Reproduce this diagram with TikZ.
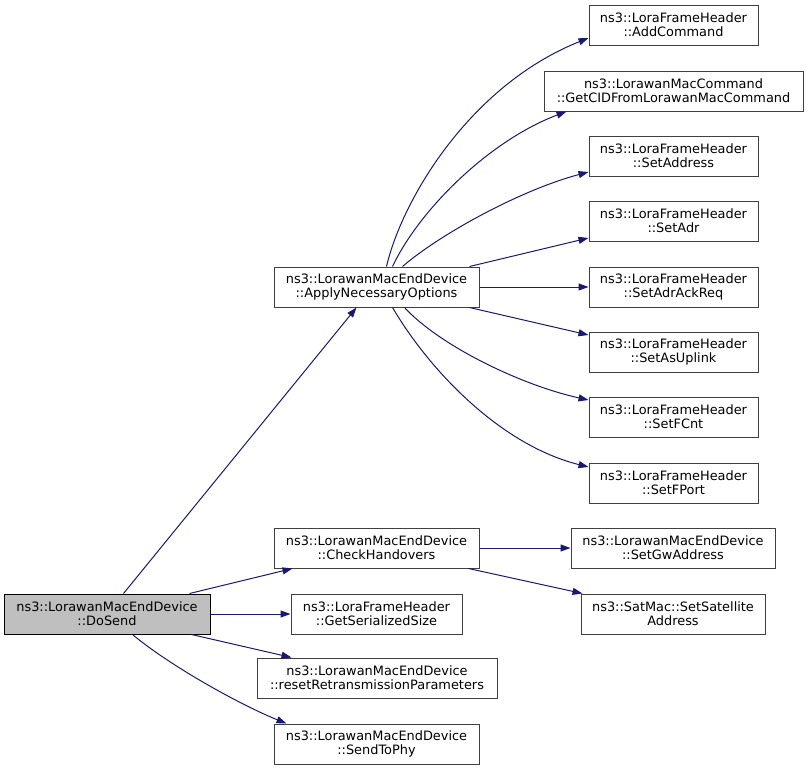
\documentclass[tikz,border=0pt]{standalone}
\usepackage{fontspec}
\setmainfont{DejaVu Sans}
\usetikzlibrary{arrows.meta}
\definecolor{edgeblue}{HTML}{191970}
\definecolor{boxgray}{HTML}{BFBFBF}
\definecolor{boxline}{HTML}{404040}
\begin{document}
\begin{tikzpicture}[x=1pt,y=-1pt,
  fn/.style={draw=boxline,line width=1pt,fill=white,rectangle,inner sep=0pt,
    minimum height=40pt,align=center,font=\fontsize{12.9}{14}\selectfont},
  cur/.style={fn,fill=boxgray,draw=black},
  call/.style={draw=edgeblue,line width=1pt,
    arrows={-{Triangle[length=10pt,width=7pt,fill=edgeblue]}}}]
\useasboundingbox (0,0) rectangle (808,771);
\fill[white] (0,0) rectangle (808,771);

\node[cur,minimum width=206pt] (dosend) at (107,614) {ns3::LorawanMacEndDevice\\::DoSend};
\node[fn,minimum width=205pt] (apply) at (376.5,287) {ns3::LorawanMacEndDevice\\::ApplyNecessaryOptions};
\node[fn,minimum width=205pt] (check) at (376.5,548) {ns3::LorawanMacEndDevice\\::CheckHandovers};
\node[fn,minimum width=171pt] (getser) at (376.5,614) {ns3::LoraFrameHeader\\::GetSerializedSize};
\node[fn,minimum width=240pt] (reset) at (377,678) {ns3::LorawanMacEndDevice\\::resetRetransmissionParameters};
\node[fn,minimum width=205pt] (sendphy) at (376.5,744) {ns3::LorawanMacEndDevice\\::SendToPhy};

\node[fn,minimum width=169pt] (addcmd) at (673.5,25) {ns3::LoraFrameHeader\\::AddCommand};
\node[fn,minimum width=259pt] (getcid) at (673.5,91) {ns3::LorawanMacCommand\\::GetCIDFromLorawanMacCommand};
\node[fn,minimum width=169pt] (setaddress) at (673.5,156) {ns3::LoraFrameHeader\\::SetAddress};
\node[fn,minimum width=169pt] (setadr) at (673.5,221) {ns3::LoraFrameHeader\\::SetAdr};
\node[fn,minimum width=169pt] (setadrack) at (673.5,287) {ns3::LoraFrameHeader\\::SetAdrAckReq};
\node[fn,minimum width=169pt] (setasup) at (673.5,352) {ns3::LoraFrameHeader\\::SetAsUplink};
\node[fn,minimum width=169pt] (setfcnt) at (673.5,417) {ns3::LoraFrameHeader\\::SetFCnt};
\node[fn,minimum width=169pt] (setfport) at (673.5,483) {ns3::LoraFrameHeader\\::SetFPort};
\node[fn,minimum width=204pt] (setgw) at (673,548) {ns3::LorawanMacEndDevice\\::SetGwAddress};
\node[fn,minimum width=184pt] (setsat) at (673,614) {ns3::SatMac::SetSatellite\\Address};

% DoSend calls
\draw[call] ([xshift=120pt]dosend.north west) -- ([xshift=83pt]apply.south west);
\draw[call] ([xshift=186pt]dosend.north west) -- ([xshift=19pt]check.south west);
\draw[call] (dosend.east) -- (getser.west);
\draw[call] ([xshift=188pt]dosend.south west) -- ([xshift=35pt]reset.north west);
\draw[call] ([xshift=129pt]dosend.south west) .. controls +(37,31) and +(-47,-19) .. ([xshift=13pt]sendphy.north west);

% ApplyNecessaryOptions calls
\draw[call] ([xshift=113pt]apply.north west) .. controls +(15,-65) and +(-120,48) .. ([yshift=-13pt]addcmd.west);
\draw[call] ([xshift=119pt]apply.north west) .. controls +(27,-57) and +(-77,29) .. ([xshift=23pt]getcid.south west);
\draw[call] ([xshift=129pt]apply.north west) .. controls +(37,-32) and +(-68,18) .. ([yshift=-16pt]setaddress.west);
\draw[call] ([xshift=196pt]apply.north west) -- ([yshift=-17pt]setadr.west);
\draw[call] (apply.east) -- (setadrack.west);
\draw[call] ([xshift=196pt]apply.south west) -- ([yshift=17pt]setasup.west);
\draw[call] ([xshift=131pt]apply.south west) .. controls +(35,38) and +(-68,-15) .. ([yshift=17pt]setfcnt.west);
\draw[call] ([xshift=119pt]apply.south west) .. controls +(37,63) and +(-88,-22) .. ([yshift=16pt]setfport.west);

% CheckHandovers calls
\draw[call] (check.east) -- (setgw.west);
\draw[call] ([xshift=-11pt]check.south east) -- ([xshift=2pt]setsat.north west);
\end{tikzpicture}
\end{document}
